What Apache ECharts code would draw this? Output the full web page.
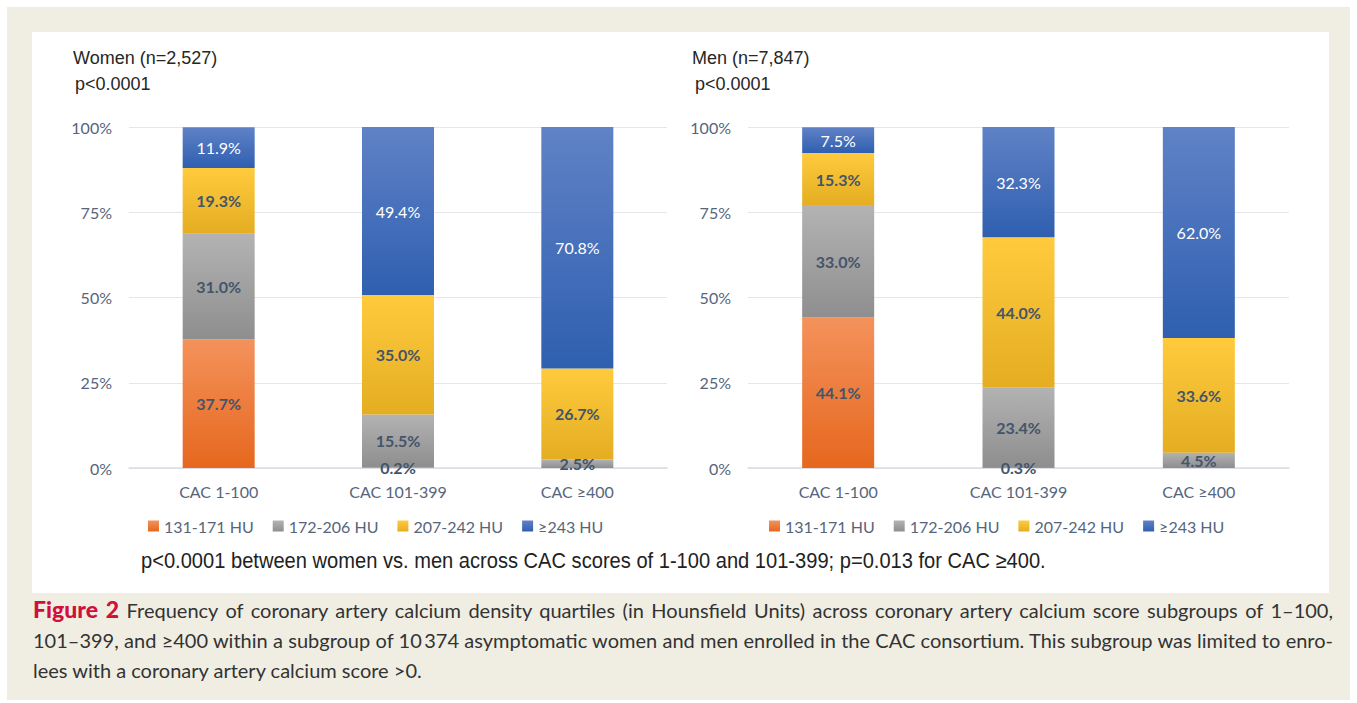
<!DOCTYPE html>
<html>
<head>
<meta charset="utf-8">
<script src="https://cdn.jsdelivr.net/npm/echarts@6/dist/echarts.min.js"></script>
<style>
  html, body { margin: 0; padding: 0; background: #fff; }
  #frame { position: absolute; left: 7px; top: 7px; width: 1343px; height: 693px; background: #f0eee3; }
  #panel { position: absolute; left: 32px; top: 32px; width: 1297px; height: 561px; background: #fff; }
  #chart { position: absolute; left: 0; top: 0; width: 1357px; height: 703px; }
  #caption {
    position: absolute; left: 33px; top: 594px; width: 1300px;
    font-family: Lato, "Open Sans", sans-serif; font-size: 20px; line-height: 30px; color: #333;
  }
  #caption div { white-space: nowrap; }
  #caption .j { text-align: justify; text-align-last: justify; white-space: normal; }
  #caption b { color: #d0103a; font-size: 23px; font-weight: 900; }
</style>
</head>
<body>
<div id="frame"></div>
<div id="panel"></div>
<div id="chart"></div>
<div id="caption">
  <div class="j"><b>Figure 2</b> Frequency of coronary artery calcium density quartiles (in Hounsfield Units) across coronary artery calcium score subgroups of 1–100,</div>
  <div class="j">101–399, and ≥400 within a subgroup of 10&#8201;374 asymptomatic women and men enrolled in the CAC consortium. This subgroup was limited to enro-</div>
  <div>lees with a coronary artery calcium score &gt;0.</div>
</div>
<script>
// categories and quartile names
const categories = ['CAC 1-100', 'CAC 101-399', 'CAC ≥400'];
const quartiles = ['131-171 HU', '172-206 HU', '207-242 HU', '≥243 HU'];

// women, % per quartile for each CAC group
const women131 = [37.7, 0.2, 0];
const women172 = [31.0, 15.5, 2.5];
const women207 = [19.3, 35.0, 26.7];
const women243 = [11.9, 49.4, 70.8];

// men
const men131 = [44.1, 0.3, 0];
const men172 = [33.0, 23.4, 4.5];
const men207 = [15.3, 44.0, 33.6];
const men243 = [7.5, 32.3, 62.0];

const yTicks = [0, 25, 50, 75, 100];

const colors = [
  ['#f4925c', '#e6671d'],
  ['#b3b3b3', '#8e8e8e'],
  ['#ffcb3d', '#e4ad22'],
  ['#6082c6', '#2f5fb0']
];

const labelFont = 'Lato, "Open Sans", sans-serif';
const axisColor = '#56657c';

function grad(i) {
  return new echarts.graphic.LinearGradient(0, 0, 0, 1, [
    { offset: 0, color: colors[i][0] },
    { offset: 1, color: colors[i][1] }
  ]);
}

function makeSeries(arr, gi, stack) {
  return arr.map((d, i) => ({
    name: quartiles[i],
    type: 'bar',
    stack: stack,
    xAxisIndex: gi,
    yAxisIndex: gi,
    barWidth: 72,
    data: d,
    itemStyle: { color: grad(i) },
    label: {
      show: true,
      position: 'inside',
      fontFamily: labelFont,
      fontSize: 16,
      fontWeight: i === 3 ? 'normal' : 'bold',
      color: i === 3 ? '#ffffff' : '#44546a',
      formatter: p => p.value > 0 ? p.value.toFixed(1) + '%' : ''
    }
  }));
}

function xAx(gi) {
  return {
    type: 'category', gridIndex: gi, data: categories,
    axisLine: { lineStyle: { color: '#d9dde3', width: 1.5 } },
    axisTick: { show: false },
    axisLabel: { color: axisColor, fontFamily: labelFont, fontSize: 16, margin: 15 }
  };
}

function yAx(gi) {
  return {
    type: 'value', gridIndex: gi, min: yTicks[0], max: yTicks[yTicks.length - 1], interval: 25,
    axisLine: { show: false }, axisTick: { show: false },
    splitLine: { lineStyle: { color: '#e3e6eb', width: 1 } },
    axisLabel: { color: axisColor, fontFamily: labelFont, fontSize: 16, margin: 17, formatter: '{value}%' }
  };
}

function legend(left) {
  return {
    left: left, top: 513, itemWidth: 11, itemHeight: 11, itemGap: 19,
    icon: 'rect',
    data: quartiles,
    textStyle: { color: axisColor, fontFamily: labelFont, fontSize: 16 }
  };
}

const titleText = {
  fontFamily: '"Liberation Sans", Arial, sans-serif', fontWeight: 'normal', fontSize: 18, color: '#262626'
};

const chart = echarts.init(document.getElementById('chart'), null, { renderer: 'svg' });
chart.setOption({
  backgroundColor: 'transparent',
  animation: false,
  title: [
    { text: 'Women (n=2,527)', left: 68, top: 44, textStyle: titleText },
    { text: 'p<0.0001', left: 70, top: 70, textStyle: titleText },
    { text: 'Men (n=7,847)', left: 687, top: 44, textStyle: titleText },
    { text: 'p<0.0001', left: 690, top: 70, textStyle: titleText }
  ],
  graphic: [{
    type: 'text', x: 141, y: 560, scaleX: 0.914,
    style: {
      text: 'p<0.0001 between women vs. men across CAC scores of 1-100 and 101-399; p=0.013 for CAC ≥400.',
      font: '22px "Liberation Sans", Arial, sans-serif', fill: '#222', verticalAlign: 'middle'
    }
  }],
  legend: [legend(143), legend(764)],
  grid: [
    { left: 129, right: 690, top: 127, bottom: 235 },
    { left: 748, right: 68, top: 127, bottom: 235 }
  ],
  xAxis: [xAx(0), xAx(1)],
  yAxis: [yAx(0), yAx(1)],
  series: [
    ...makeSeries([women131, women172, women207, women243], 0, 'women'),
    ...makeSeries([men131, men172, men207, men243], 1, 'men')
  ]
});
</script>
</body>
</html>
